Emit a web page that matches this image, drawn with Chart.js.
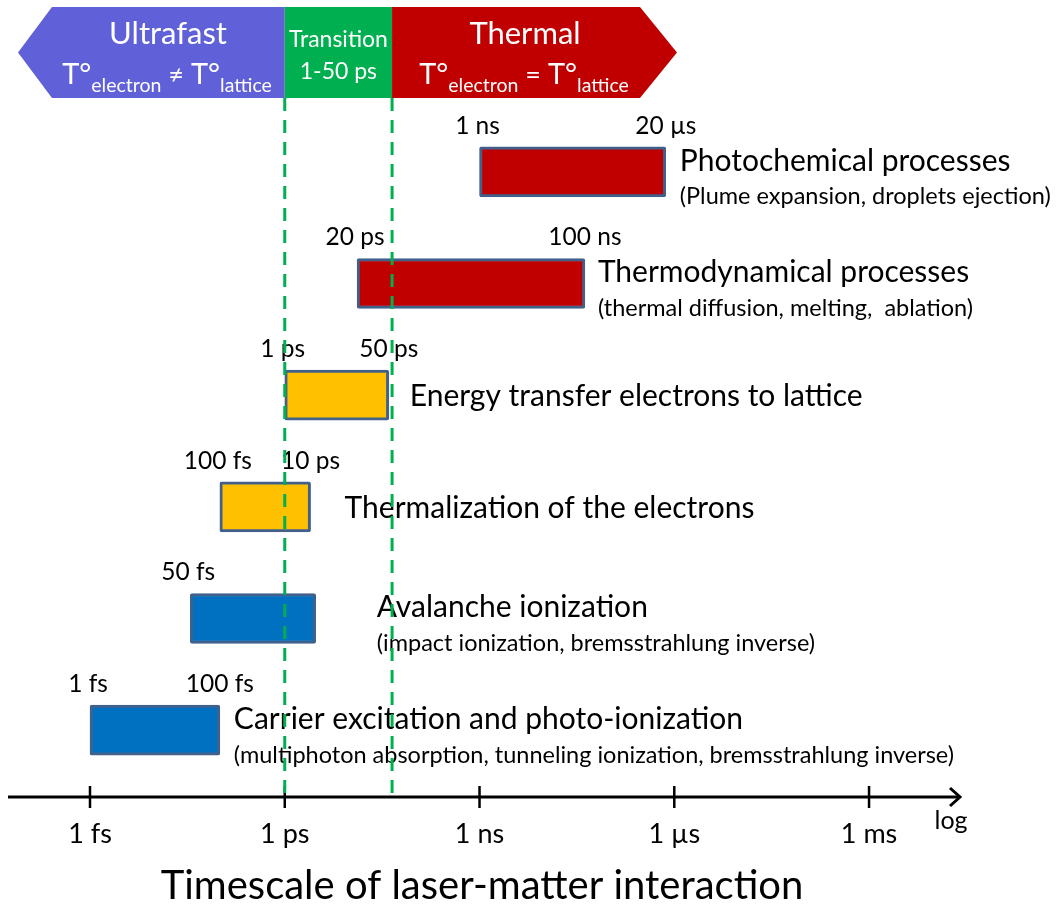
<!DOCTYPE html>
<html>
<head>
<meta charset="utf-8">
<script src="https://cdn.jsdelivr.net/npm/chart.js@4"></script>
<style>
  html, body { margin: 0; padding: 0; background: #fff; }
</style>
</head>
<body>
<canvas id="timescale-chart" width="1058" height="910"></canvas>
<script>
// === LASER-MATTER INTERACTION TIMESCALES ===

const processNames = [
  "Photochemical processes",
  "Thermodynamical processes",
  "Energy transfer electrons to lattice",
  "Thermalization of the electrons",
  "Avalanche ionization",
  "Carrier excitation and photo-ionization",
];
const processDetails = [
  "(Plume expansion, droplets ejection)",
  "(thermal diffusion, melting,  ablation)",
  "",
  "",
  "(impact ionization, bremsstrahlung inverse)",
  "(multiphoton absorption, tunneling ionization, bremsstrahlung inverse)",
];
// seconds
const startTimes  = [1e-9, 1.3e-11, 1e-12, 1e-13, 3.5e-14, 1e-15];
const endTimes    = [7.4e-7, 4.2e-8, 4e-11, 2.5e-12, 3e-12, 1e-13];
const startLabels = ["1 ns", "20 ps", "1 ps", "100 fs", "50 fs", "1 fs"];
const endLabels   = ["20 µs", "100 ns", "50 ps", "10 ps", "", "100 fs"];
const barColors   = ["#C00000", "#C00000", "#FFC000", "#FFC000", "#0070C0", "#0070C0"];

const tickValues = [1e-15, 1e-12, 1e-9, 1e-6, 1e-3];
const tickLabels = ["1 fs", "1 ps", "1 ns", "1 µs", "1 ms"];

const transitionStart = 1e-12;
const transitionEnd   = 4.5e-11;

// layout / style
const FONT     = "Lato, 'Open Sans', sans-serif";
const textGap  = [14, 13, 21, 34, 61, 14];
const AXIS_Y   = 797;
const BANNER   = { top: 7, bottom: 98, leftTip: 18, leftBody: 52, rightBody: 640, rightTip: 677 };

const font = (size) => `${size}px ${FONT}`;

// text with subscripts: parts = [[text, size, dy], ...]
const drawRichText = (ctx, parts, cx, y) => {
  let total = 0;
  parts.forEach(([t, s]) => { ctx.font = font(s); total += ctx.measureText(t).width; });
  let x = cx - total / 2;
  ctx.textAlign = "left";
  parts.forEach(([t, s, dy]) => {
    ctx.font = font(s);
    ctx.fillText(t, x, y + dy);
    x += ctx.measureText(t).width;
  });
};

const decorPlugin = {
  id: "decor",
  afterDatasetsDraw(chart) {
    const ctx = chart.ctx;
    const xs  = chart.scales.x;
    const meta = chart.getDatasetMeta(0);
    const x1 = xs.getPixelForValue(transitionStart);
    const x2 = xs.getPixelForValue(transitionEnd);
    const mid = (BANNER.top + BANNER.bottom) / 2;

    ctx.save();

    // banner
    ctx.fillStyle = "#6060D8";
    ctx.beginPath();
    ctx.moveTo(BANNER.leftTip, mid);
    ctx.lineTo(BANNER.leftBody, BANNER.top);
    ctx.lineTo(x1, BANNER.top);
    ctx.lineTo(x1, BANNER.bottom);
    ctx.lineTo(BANNER.leftBody, BANNER.bottom);
    ctx.closePath();
    ctx.fill();

    ctx.fillStyle = "#00B050";
    ctx.fillRect(x1, BANNER.top, x2 - x1, BANNER.bottom - BANNER.top);

    ctx.fillStyle = "#C00000";
    ctx.beginPath();
    ctx.moveTo(x2, BANNER.top);
    ctx.lineTo(BANNER.rightBody, BANNER.top);
    ctx.lineTo(BANNER.rightTip, mid);
    ctx.lineTo(BANNER.rightBody, BANNER.bottom);
    ctx.lineTo(x2, BANNER.bottom);
    ctx.closePath();
    ctx.fill();

    ctx.fillStyle = "#fff";
    ctx.textBaseline = "middle";
    ctx.textAlign = "center";
    ctx.font = font(31);
    ctx.fillText("Ultrafast", 168, 34);
    ctx.fillText("Thermal", 525, 34);
    ctx.font = font(23);
    ctx.fillText("Transition", (x1 + x2) / 2, 40);
    ctx.fillText("1-50 ps", (x1 + x2) / 2, 72);
    ctx.textBaseline = "alphabetic";
    drawRichText(ctx, [["T°", 29, 0], ["electron", 19.5, 8], [" ≠ ", 27, 0], ["T°", 29, 0], ["lattice", 19.5, 8]], 167, 84);
    drawRichText(ctx, [["T°", 29, 0], ["electron", 19.5, 8], [" = ", 27, 0], ["T°", 29, 0], ["lattice", 19.5, 8]], 524, 84);

    // labels around bars
    ctx.fillStyle = "#000";
    ctx.textBaseline = "middle";
    meta.data.forEach((bar, i) => {
      const left  = Math.min(bar.x, bar.base);
      const right = Math.max(bar.x, bar.base);
      const cy = bar.y;
      ctx.font = font(24.5);
      ctx.textAlign = "center";
      if (startLabels[i]) ctx.fillText(startLabels[i], left - 2, cy - 46);
      if (endLabels[i]) ctx.fillText(endLabels[i], right, cy - 46);

      ctx.textAlign = "left";
      const tx = right + textGap[i];
      if (processDetails[i]) {
        ctx.font = font(30);
        ctx.fillText(processNames[i], tx, cy - 11);
        ctx.font = font(23.5);
        ctx.fillText(processDetails[i], tx, cy + 25);
      } else {
        ctx.font = font(30);
        ctx.fillText(processNames[i], tx, cy + 1);
      }
    });

    // time axis with arrow
    ctx.strokeStyle = "#000";
    ctx.lineWidth = 3;
    ctx.beginPath();
    ctx.moveTo(8, AXIS_Y);
    ctx.lineTo(958, AXIS_Y);
    ctx.stroke();
    ctx.beginPath();
    ctx.moveTo(950, AXIS_Y - 9);
    ctx.lineTo(960, AXIS_Y);
    ctx.lineTo(950, AXIS_Y + 9);
    ctx.stroke();
    ctx.lineWidth = 2.5;
    ctx.font = font(27);
    ctx.textAlign = "center";
    tickValues.forEach((v, i) => {
      const px = xs.getPixelForValue(v);
      ctx.beginPath();
      ctx.moveTo(px, AXIS_Y - 11);
      ctx.lineTo(px, AXIS_Y + 11);
      ctx.stroke();
      ctx.fillText(tickLabels[i], px, 834);
    });
    ctx.font = font(25);
    ctx.fillText("log", 951, 821);

    ctx.font = font(40);
    ctx.fillText("Timescale of laser-matter interaction", 482, 886);

    // transition window, dashed
    ctx.strokeStyle = "#00B050";
    ctx.lineWidth = 3;
    ctx.setLineDash([13, 9]);
    [x1, x2].forEach((px) => {
      ctx.beginPath();
      ctx.moveTo(px, BANNER.bottom);
      ctx.lineTo(px, AXIS_Y);
      ctx.stroke();
    });

    ctx.restore();
  },
};

const ctx = document.getElementById("timescale-chart").getContext("2d");

new Chart(ctx, {
  type: "bar",
  data: {
    labels: processNames,
    datasets: [{
      data: startTimes.map((s, i) => [s, endTimes[i]]),
      backgroundColor: barColors,
      borderColor: "#41618C",
      borderWidth: 3,
      borderSkipped: false,
      borderRadius: 2,
      barThickness: 50,
    }],
  },
  options: {
    indexAxis: "y",
    responsive: false,
    animation: false,
    layout: { padding: { left: 8, right: 98, top: 116, bottom: 124 } },
    plugins: {
      legend: { display: false },
      tooltip: { enabled: false },
    },
    scales: {
      x: {
        type: "logarithmic",
        display: false,
        bounds: "data",
        min: Math.pow(10, -16.263),
        max: Math.pow(10, -1.599),
      },
      y: { display: false },
    },
  },
  plugins: [decorPlugin],
});
</script>
</body>
</html>
